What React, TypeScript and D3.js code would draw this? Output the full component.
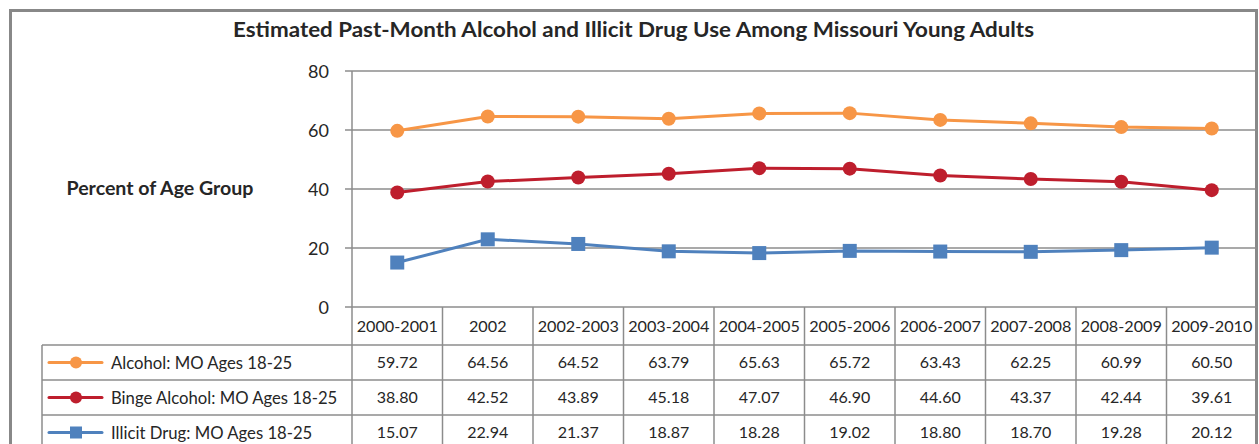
import React from "react";
import * as d3 from "d3";

const categories = ["2000-2001","2002","2002-2003","2003-2004","2004-2005","2005-2006","2006-2007","2007-2008","2008-2009","2009-2010"];
const alcohol = [59.72,64.56,64.52,63.79,65.63,65.72,63.43,62.25,60.99,60.50];
const binge = [38.80,42.52,43.89,45.18,47.07,46.90,44.60,43.37,42.44,39.61];
const illicit = [15.07,22.94,21.37,18.87,18.28,19.02,18.80,18.70,19.28,20.12];
const yTicks = [0,20,40,60,80];
const seriesNames = ["Alcohol: MO Ages 18-25","Binge Alcohol: MO Ages 18-25","Illicit Drug: MO Ages 18-25"];
const seriesColors = ["#F79646","#BE1E2D","#4F81BD"];
const seriesShapes = ["circle","circle","square"];
const title = "Estimated Past-Month Alcohol and Illicit Drug Use Among Missouri Young Adults";
const yLabel = "Percent of Age Group";

const W = 1259, H = 444;
const FONT = "Lato, 'Open Sans', sans-serif";
const GRID = "#8c8c8c";

export default function App() {
  const plotL = 352, plotR = 1257, plotT = 71, plotB = 307;
  const x = d3.scaleBand<string>().domain(categories).range([plotL, plotR]);
  const y = d3.scaleLinear().domain([0, 80]).range([plotB, plotT]);
  const data = [alcohol, binge, illicit];
  const line = d3.line<number>().x((_, i) => x(categories[i])! + x.bandwidth() / 2).y(d => y(d));
  const headerB = 345;
  const rowH = 35;
  const tableL = 42;
  const rowYs = [headerB, headerB + rowH, headerB + 2 * rowH, headerB + 3 * rowH];

  const marker = (shape: string, cx: number, cy: number, color: string, r: number, key: any) =>
    shape === "circle"
      ? <circle key={key} cx={cx} cy={cy} r={r} fill={color} />
      : <rect key={key} x={cx - r} y={cy - r} width={2 * r} height={2 * r} fill={color} />;

  return (
    <svg width={W} height={H} style={{ display: "block", position: "absolute", left: 0, top: 0 }}>
      <rect x={0} y={0} width={W} height={H} fill="#fff" />
      {/* outer border */}
      <path d={`M10.5,${H + 5} V10.5 H1256.5 V${H + 5}`} fill="none" stroke="#888" strokeWidth={3} />
      <text x={633.5} y={37} textAnchor="middle" fontFamily={FONT} fontWeight="bold" fontSize={21} fill="#262626" textLength={801} lengthAdjust="spacingAndGlyphs">{title}</text>
      <text x={160} y={195} textAnchor="middle" fontFamily={FONT} fontWeight="bold" fontSize={18.5} fill="#262626" textLength={187} lengthAdjust="spacingAndGlyphs">{yLabel}</text>

      {/* gridlines */}
      {yTicks.map(t => (
        <g key={t}>
          <line x1={345} x2={plotR} y1={y(t)} y2={y(t)} stroke={GRID} strokeWidth={1.5} />
          <text x={329} y={y(t) + 6.5} textAnchor="end" fontFamily={FONT} fontSize={18} fill="#262626">{t}</text>
        </g>
      ))}
      {/* y axis line extends through table */}
      <line x1={plotL} x2={plotL} y1={plotT} y2={H} stroke={GRID} strokeWidth={1.5} />
      {/* table column lines */}
      {categories.map((c, i) => i > 0 ? (
        <line key={c} x1={x(c)!} x2={x(c)!} y1={plotB} y2={H} stroke={GRID} strokeWidth={1.5} />
      ) : null)}
      {/* table row lines */}
      {rowYs.map((ry, i) => (
        <line key={i} x1={tableL} x2={plotR} y1={ry} y2={ry} stroke={GRID} strokeWidth={1.5} />
      ))}
      <line x1={tableL} x2={tableL} y1={headerB} y2={H} stroke={GRID} strokeWidth={1.5} />

      {/* category header */}
      {categories.map(c => (
        <text key={c} x={x(c)! + x.bandwidth() / 2} y={332} textAnchor="middle" fontFamily={FONT} fontSize={16.2} fill="#262626">{c}</text>
      ))}
      {/* values */}
      {data.map((s, si) => s.map((v, i) => (
        <text key={`${si}-${i}`} x={x(categories[i])! + x.bandwidth() / 2} y={headerB + si * rowH + 23} textAnchor="middle" fontFamily={FONT} fontSize={16} fill="#262626">{v.toFixed(2)}</text>
      )))}
      {/* legend keys */}
      {seriesNames.map((n, si) => {
        const cy = headerB + si * rowH + 17.5;
        return (
          <g key={n}>
            <line x1={49} x2={102} y1={cy} y2={cy} stroke={seriesColors[si]} strokeWidth={3} strokeLinecap="round" />
            {marker(seriesShapes[si], 76, cy, seriesColors[si], 6, "m")}
            <text x={111} y={cy + 6} fontFamily={FONT} fontSize={16.7} fill="#262626">{n}</text>
          </g>
        );
      })}

      {/* lines */}
      {data.map((s, si) => (
        <g key={si}>
          <path d={line(s)!} fill="none" stroke={seriesColors[si]} strokeWidth={3} />
          {s.map((v, i) => marker(seriesShapes[si], x(categories[i])! + x.bandwidth() / 2, y(v), seriesColors[si], 7, i))}
        </g>
      ))}
    </svg>
  );
}
